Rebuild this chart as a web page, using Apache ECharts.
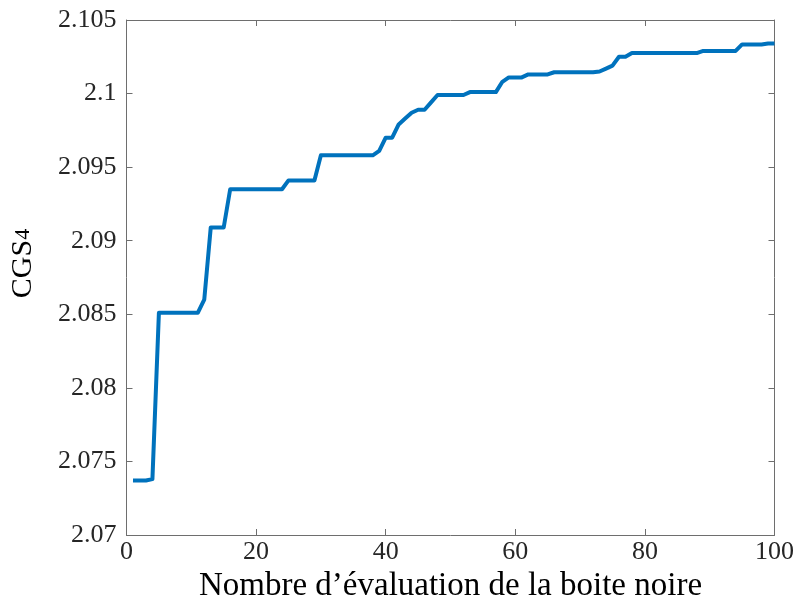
<!DOCTYPE html>
<html>
<head>
<meta charset="utf-8">
<script src="https://cdn.jsdelivr.net/npm/echarts@6/dist/echarts.min.js"></script>
<style>
  html, body { margin: 0; padding: 0; background: #fff; }
  #chart { width: 797px; height: 609px; }
</style>
</head>
<body>
<div id="chart"></div>
<script>
// nombre d'evaluations de la boite noire
var evaluations = [
  1, 2, 3, 4, 5, 6, 7, 8, 9, 10,
  11, 12, 13, 14, 15, 16, 17, 18, 19, 20,
  21, 22, 23, 24, 25, 26, 27, 28, 29, 30,
  31, 32, 33, 34, 35, 36, 37, 38, 39, 40,
  41, 42, 43, 44, 45, 46, 47, 48, 49, 50,
  51, 52, 53, 54, 55, 56, 57, 58, 59, 60,
  61, 62, 63, 64, 65, 66, 67, 68, 69, 70,
  71, 72, 73, 74, 75, 76, 77, 78, 79, 80,
  81, 82, 83, 84, 85, 86, 87, 88, 89, 90,
  91, 92, 93, 94, 95, 96, 97, 98, 99, 100
];
// meilleur CGS4 trouve
var cgs4 = [
  2.0737, 2.0737, 2.0737, 2.0738, 2.0851, 2.0851, 2.0851, 2.0851, 2.0851, 2.0851,
  2.0851, 2.0860, 2.0909, 2.0909, 2.0909, 2.0935, 2.0935, 2.0935, 2.0935, 2.0935,
  2.0935, 2.0935, 2.0935, 2.0935, 2.0941, 2.0941, 2.0941, 2.0941, 2.0941, 2.0958,
  2.0958, 2.0958, 2.0958, 2.0958, 2.0958, 2.0958, 2.0958, 2.0958, 2.0961, 2.0970,
  2.0970, 2.0979, 2.0983, 2.0987, 2.0989, 2.0989, 2.0994, 2.0999, 2.0999, 2.0999,
  2.0999, 2.0999, 2.1001, 2.1001, 2.1001, 2.1001, 2.1001, 2.1008, 2.1011, 2.1011,
  2.1011, 2.1013, 2.1013, 2.1013, 2.1013, 2.10145, 2.10145, 2.10145, 2.10145, 2.10145,
  2.10145, 2.10145, 2.1015, 2.1017, 2.1019, 2.1025, 2.1025, 2.10275, 2.10275, 2.10275,
  2.10275, 2.10275, 2.10275, 2.10275, 2.10275, 2.10275, 2.10275, 2.10275, 2.1029, 2.1029,
  2.1029, 2.1029, 2.1029, 2.1029, 2.10334, 2.10334, 2.10334, 2.10334, 2.1034, 2.1034
];

var points = evaluations.map(function (x, i) { return [x, cgs4[i]]; });

var axisColor = '#6e6e6e';
var textColor = '#262626';
var font = '"Liberation Serif", "DejaVu Serif", serif';

function frameAxis(extra) {
  var base = {
    axisLine: { show: true, onZero: false, lineStyle: { color: axisColor, width: 1 } },
    axisTick: { show: true, inside: true, length: 6, lineStyle: { color: axisColor, width: 1 } },
    splitLine: { show: false }
  };
  for (var k in extra) base[k] = extra[k];
  return base;
}

var chart = echarts.init(document.getElementById('chart'), null, { renderer: 'canvas' });
chart.setOption({
  animation: false,
  grid: { left: 126.5, right: 20, top: 20, bottom: 74 },
  xAxis: [
    frameAxis({
      type: 'value', min: 0, max: 100, interval: 20, position: 'bottom',
      name: 'Nombre d\u2019évaluation de la boite noire',
      nameLocation: 'middle', nameGap: 26,
      nameTextStyle: { fontFamily: font, fontSize: 33, color: '#000', verticalAlign: 'top' },
      axisLabel: { fontFamily: font, fontSize: 26, color: textColor, margin: 4 }
    }),
    frameAxis({
      type: 'value', min: 0, max: 100, interval: 20, position: 'top',
      axisLabel: { show: false }
    })
  ],
  yAxis: [
    frameAxis({
      type: 'value', min: 2.07, max: 2.105, interval: 0.005, position: 'left',
      name: '{a|CGS}{b|4}',
      nameLocation: 'middle', nameGap: 88, nameRotate: 90,
      nameTextStyle: {
        padding: [0, 0, 0, 28],
        rich: {
          a: { fontFamily: font, fontSize: 30, color: '#000' },
          b: { fontFamily: font, fontSize: 22, color: '#000' }
        }
      },
      axisLabel: {
        fontFamily: font, fontSize: 26, color: textColor, margin: 10,
        formatter: function (v) { return String(parseFloat(v.toFixed(3))); }
      }
    }),
    frameAxis({
      type: 'value', min: 2.07, max: 2.105, interval: 0.005, position: 'right',
      axisLabel: { show: false }
    })
  ],
  series: [{
    type: 'line',
    xAxisIndex: 0,
    yAxisIndex: 0,
    data: points,
    showSymbol: false,
    lineStyle: { color: '#0072BD', width: 4, join: 'round' }
  }]
});
</script>
</body>
</html>
